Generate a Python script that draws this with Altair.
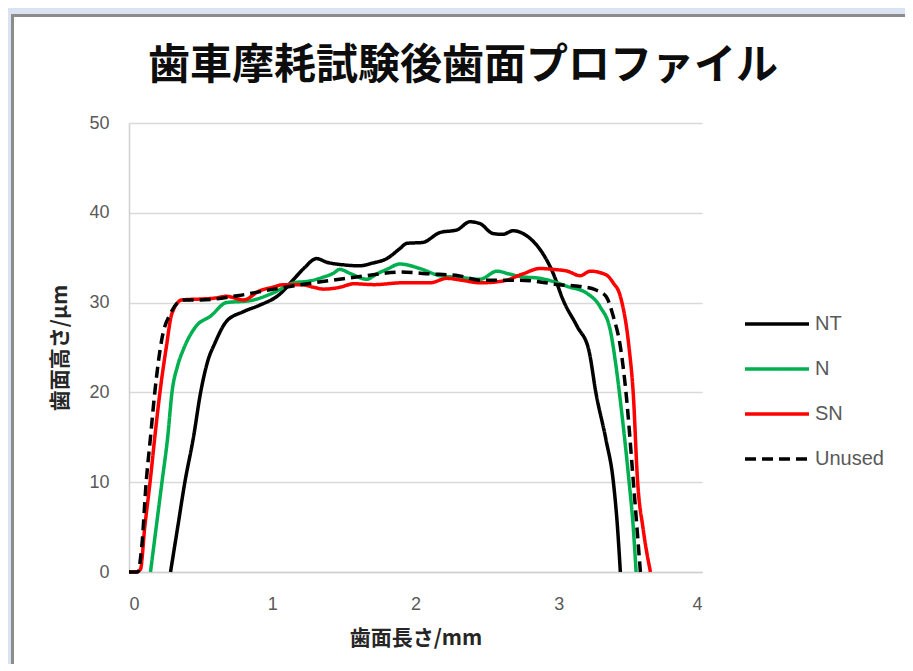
import altair as alt
import pandas as pd

title_text = ["歯車摩耗試験後歯面プロファイル"]
series = ["NT", "N", "SN", "Unused"]
colors = ["#000000", "#00b050", "#ff0000", "#000000"]
dashes = [[1, 0], [1, 0], [1, 0], [11, 6]]

nt_x = [0.29, 0.34, 0.39, 0.45, 0.50, 0.55, 0.60, 0.68, 0.80, 0.91, 1.05, 1.15, 1.22, 1.31, 1.38,
        1.50, 1.61, 1.70, 1.80, 1.89, 1.94, 2.05, 2.17, 2.29, 2.38, 2.45, 2.54, 2.61, 2.68, 2.75,
        2.81, 2.87, 2.96, 3.03, 3.13, 3.21, 3.26, 3.33, 3.38, 3.41, 3.43]
nt_y = [0, 5, 10, 15, 20, 23.5, 25.5, 27.9, 29.0, 29.7, 30.9, 32.6, 33.8, 34.9, 34.5,
        34.2, 34.1, 34.4, 34.9, 36.0, 36.6, 36.7, 37.8, 38.1, 39.0, 38.8, 37.7, 37.6, 38.0, 37.7,
        37.0, 35.9, 33.3, 30.3, 27.3, 24.7, 19.9, 14.7, 10.2, 5.0, 0]

n_x = [0.15, 0.19, 0.23, 0.27, 0.30, 0.34, 0.38, 0.47, 0.57, 0.68, 0.84, 1.01, 1.15, 1.26, 1.35,
       1.43, 1.47, 1.55, 1.66, 1.73, 1.80, 1.89, 2.03, 2.17, 2.31, 2.45, 2.57, 2.65, 2.73, 2.87,
       2.97, 3.06, 3.20, 3.29, 3.36, 3.40, 3.44, 3.49, 3.52, 3.54]
n_y = [0, 5, 10, 15, 20, 23, 24.8, 27.4, 28.5, 30.0, 30.2, 31.1, 32.2, 32.4, 32.8,
       33.3, 33.7, 33.2, 32.6, 33.2, 33.7, 34.3, 33.8, 33.0, 32.8, 32.6, 33.5, 33.2, 32.9, 32.7,
       32.3, 31.8, 31.0, 29.5, 26.9, 22.9, 17.7, 10.2, 5.0, 0]

sn_x = [0.00, 0.05, 0.08, 0.11, 0.147, 0.18, 0.216, 0.26, 0.30, 0.37, 0.50, 0.60, 0.68, 0.80,
        0.91, 1.00, 1.08, 1.20, 1.29, 1.36, 1.47, 1.57, 1.71, 1.90, 2.10, 2.22, 2.32, 2.45, 2.61,
        2.75, 2.87, 2.96, 3.06, 3.15, 3.22, 3.33, 3.38, 3.43, 3.49, 3.52, 3.55, 3.59, 3.64]
sn_y = [0, 0, 0.3, 5, 10, 15, 20, 25, 28.8, 30.3, 30.4, 30.5, 30.7, 30.3,
        31.3, 31.7, 32.0, 32.0, 31.7, 31.5, 31.7, 32.1, 32.0, 32.2, 32.2, 32.7, 32.5, 32.2, 32.4,
        33.2, 33.8, 33.7, 33.5, 33.0, 33.5, 33.1, 32.2, 30.7, 25.1, 19.9, 10.2, 4.7, 0]

un_x = [0.00, 0.06, 0.09, 0.12, 0.15, 0.18, 0.23, 0.29, 0.38, 0.50, 0.77, 1.01, 1.29, 1.66, 1.89,
        2.10, 2.30, 2.45, 2.73, 2.87, 3.00, 3.15, 3.26, 3.33, 3.38, 3.43, 3.47, 3.52, 3.57]
un_y = [0, 0, 3, 10, 15, 20, 26, 28.8, 30.3, 30.3, 30.8, 31.5, 32.2, 33.0, 33.4,
        33.2, 33.0, 32.5, 32.5, 32.3, 32.0, 31.8, 31.4, 30.7, 28.5, 25.1, 19.9, 10.2, 0]

x_ticks = [0, 1, 2, 3, 4]
y_ticks = [0, 10, 20, 30, 40, 50]

rows = []
for name, xs, ys in [("NT", nt_x, nt_y), ("N", n_x, n_y), ("SN", sn_x, sn_y), ("Unused", un_x, un_y)]:
    for i, (a, b) in enumerate(zip(xs, ys)):
        rows.append({"series": name, "x": a, "y": b, "i": i})
df = pd.DataFrame(rows)

label_font = "Liberation Sans"
jp_font = "Noto Sans CJK JP"
blue = "#dae3f1"
one = pd.DataFrame({"k": [0]})

# page decoration: light-blue strips around a gray-bordered white chart area
strip_top = alt.Chart(one).mark_rect(fill=blue).encode(
    x=alt.value(-125), x2=alt.value(820), y=alt.value(-120), y2=alt.value(-108))
strip_left = alt.Chart(one).mark_rect(fill=blue).encode(
    x=alt.value(-125), x2=alt.value(-117), y=alt.value(-120), y2=alt.value(600))
border = alt.Chart(one).mark_rect(fill="transparent", stroke="#8c8c8c", strokeWidth=3).encode(
    x=alt.value(-116.5), x2=alt.value(820), y=alt.value(-107.5), y2=alt.value(600))

title = alt.Chart(pd.DataFrame({"t": title_text})).mark_text(
    font=jp_font, fontSize=42, fontWeight="bold", color="#0d0d0d",
    align="center", baseline="middle"
).encode(x=alt.value(334), y=alt.value(-57), text="t:N")

legend = alt.Legend(
    title=None, orient="none", legendX=614, legendY=167,
    symbolType="stroke", symbolSize=4096, symbolStrokeWidth=3.5,
    labelFont=label_font, labelFontSize=20, labelColor="#595959",
    labelOffset=4, rowPadding=1,
)

lines = alt.Chart(df).mark_line(strokeWidth=3.5, interpolate="monotone").encode(
    x=alt.X("x:Q", scale=alt.Scale(domain=[0, 4], nice=False),
            axis=alt.Axis(values=x_ticks, title="歯面長さ/mm", grid=False, ticks=False,
                          labelPadding=23, titlePadding=14, format="d")),
    y=alt.Y("y:Q", scale=alt.Scale(domain=[0, 50], nice=False),
            axis=alt.Axis(values=y_ticks, title="歯面高さ/μm", grid=True, ticks=False,
                          labelPadding=20, titlePadding=18, format="d")),
    color=alt.Color("series:N", scale=alt.Scale(domain=series, range=colors), legend=legend),
    strokeDash=alt.StrokeDash("series:N", scale=alt.Scale(domain=series, range=dashes), legend=legend),
    order=alt.Order("i:Q"),
)

chart = alt.layer(strip_top, strip_left, border, title, lines).properties(
    width=573, height=449,
    autosize=alt.AutoSizeParams(type="none"),
    padding={"left": 121, "top": 115, "right": 203, "bottom": 92},
    background="white",
).configure_view(stroke=None).configure_axis(
    labelFont=label_font, labelFontSize=18, labelColor="#595959",
    titleFont=jp_font, titleFontSize=21, titleFontWeight="bold", titleColor="#262626",
    domainColor="#d0d0d0", domainWidth=1.5, gridColor="#d9d9d9", gridWidth=1.5,
)

chart.save("out.html", embed_options={"renderer": "svg", "actions": False})
